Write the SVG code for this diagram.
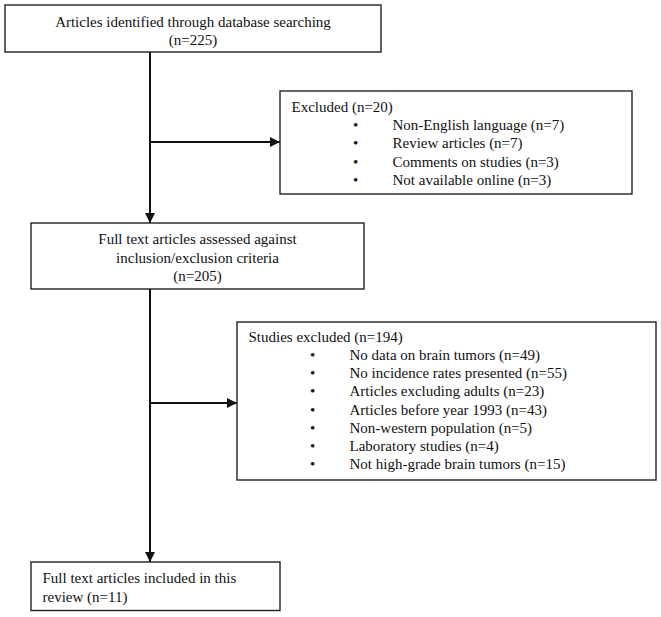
<svg xmlns="http://www.w3.org/2000/svg" width="661" height="617" viewBox="0 0 661 617">
<style>
.box{fill:#fff;stroke:#222;stroke-width:1.4}
text{font-family:"Liberation Serif","Times New Roman",serif;font-size:15px;fill:#111}
.c{text-anchor:middle}
.ln{stroke:#111;stroke-width:2;fill:none}
</style>
<defs>
<marker id="ah" viewBox="0 0 10 10" refX="10" refY="5" markerWidth="10" markerHeight="10" markerUnits="userSpaceOnUse" orient="auto">
<path d="M0,0 L10,5 L0,10 z" fill="#111"/>
</marker>
</defs>
<rect width="661" height="617" fill="#fff"/>
<g id="connectors">
<line class="ln" x1="150" y1="52" x2="150" y2="223" marker-end="url(#ah)"/>
<line class="ln" x1="150" y1="142" x2="280" y2="142" marker-end="url(#ah)"/>
<line class="ln" x1="150" y1="289" x2="150" y2="562" marker-end="url(#ah)"/>
<line class="ln" x1="150" y1="403" x2="237" y2="403" marker-end="url(#ah)"/>
</g>
<g id="identified">
<rect class="box" x="5" y="5" width="376" height="47"/>
<text class="c" x="193" y="26.5">Articles identified through database searching</text>
<text class="c" x="193" y="45">(n=225)</text>
</g>
<g id="excluded1">
<rect class="box" x="280" y="91" width="352" height="103"/>
<text x="291.5" y="111.5">Excluded (n=20)</text>
<text x="353" y="129.5">•</text><text x="392.5" y="129.5">Non-English language (n=7)</text>
<text x="353" y="148">•</text><text x="392.5" y="148">Review articles (n=7)</text>
<text x="353" y="166.5">•</text><text x="392.5" y="166.5">Comments on studies (n=3)</text>
<text x="353" y="185">•</text><text x="392.5" y="185">Not available online (n=3)</text>
</g>
<g id="assessed">
<rect class="box" x="31" y="223" width="333" height="66"/>
<text class="c" x="197.5" y="244">Full text articles assessed against</text>
<text class="c" x="197.5" y="262.5">inclusion/exclusion criteria</text>
<text class="c" x="197.5" y="281">(n=205)</text>
</g>
<g id="excluded2">
<rect class="box" x="237" y="322" width="419" height="158"/>
<text x="248.5" y="342">Studies excluded (n=194)</text>
<text x="310" y="360">•</text><text x="349.5" y="360">No data on brain tumors (n=49)</text>
<text x="310" y="378.2">•</text><text x="349.5" y="378.2">No incidence rates presented (n=55)</text>
<text x="310" y="396.4">•</text><text x="349.5" y="396.4">Articles excluding adults (n=23)</text>
<text x="310" y="414.6">•</text><text x="349.5" y="414.6">Articles before year 1993 (n=43)</text>
<text x="310" y="432.8">•</text><text x="349.5" y="432.8">Non-western population (n=5)</text>
<text x="310" y="451">•</text><text x="349.5" y="451">Laboratory studies (n=4)</text>
<text x="310" y="469.2">•</text><text x="349.5" y="469.2">Not high-grade brain tumors (n=15)</text>
</g>
<g id="included">
<rect class="box" x="31" y="562" width="249" height="48.5"/>
<text x="42.5" y="583">Full text articles included in this</text>
<text x="42.5" y="601.5">review (n=11)</text>
</g>
</svg>
